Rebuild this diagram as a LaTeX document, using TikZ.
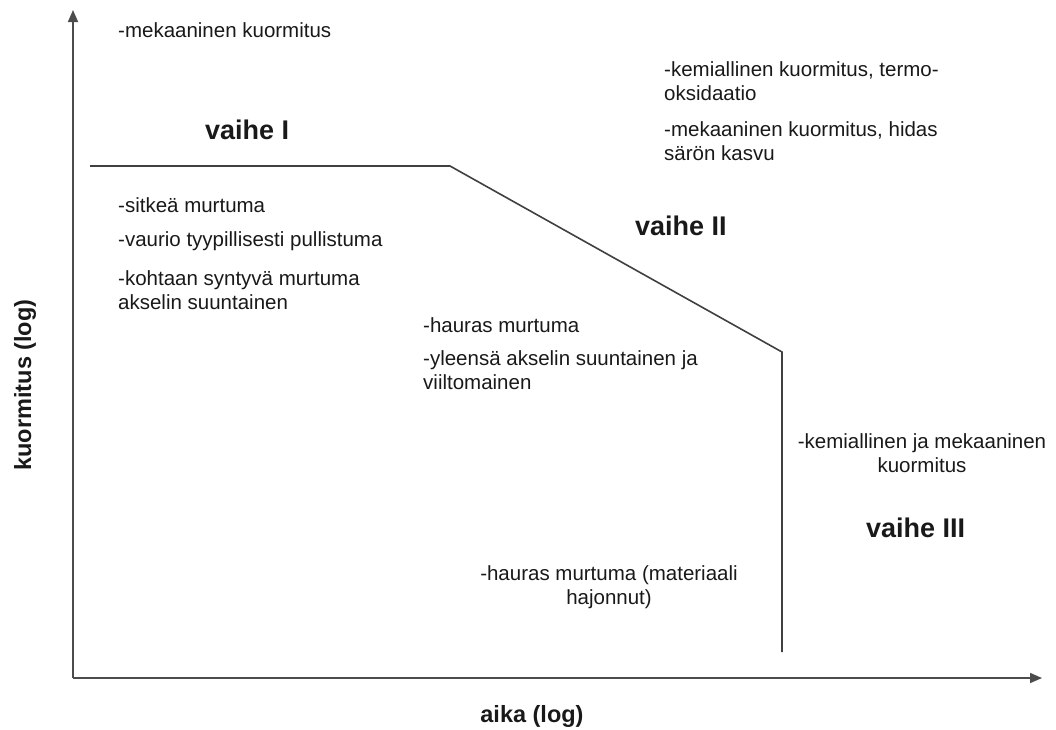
\documentclass[tikz,border=0pt]{standalone}
\usepackage{fontspec}
\setmainfont{Liberation Sans}
\usetikzlibrary{arrows.meta}
\begin{document}
\begin{tikzpicture}[x=1pt,y=-1pt,
  axis/.style={draw=black!70,line width=1.6pt,-{Triangle[length=12pt,width=10pt]}},
  curve/.style={draw=black!75,line width=1.6pt},
  txt/.style={inner sep=0pt,anchor=west,align=left,font=\fontsize{20.5}{24}\selectfont,text=black!90},
  ctxt/.style={inner sep=0pt,align=center,font=\fontsize{20.5}{24}\selectfont,text=black!90},
  phase/.style={inner sep=0pt,anchor=west,font=\fontsize{27}{30}\selectfont\bfseries,text=black!90},
  axlabel/.style={inner sep=0pt,font=\fontsize{23.5}{26}\selectfont\bfseries,text=black!90}]
\useasboundingbox (0,0) rectangle (1056,729);
% axes
\coordinate (O) at (73,678);
\coordinate (ytip) at (73,10);
\coordinate (xtip) at (1042,678);
\draw[axis] (O) -- (ytip);
\draw[axis] (O) -- (xtip);
% curve
\coordinate (c0) at (90,166);
\coordinate (c1) at (450,166);
\coordinate (c2) at (782,352);
\coordinate (c3) at (782,652);
\draw[curve,line join=miter] (c0) -- (c1) -- (c2) -- (c3);
% axis labels
\node[axlabel] (xlab) at (532,716) {aika (log)};
\node[axlabel,rotate=90] (ylab) at (25,385) {kuormitus (log)};
% phase I
\node[txt] (mek1) at (118,30) {-mekaaninen kuormitus};
\node[phase] (v1) at (205,130) {vaihe I};
\node[txt] (sit) at (118,205) {-sitkeä murtuma};
\node[txt] (vau) at (118,241) {-vaurio tyypillisesti pullistuma};
\node[txt] (koh) at (118,290) {-kohtaan syntyvä murtuma\\akselin suuntainen};
% phase II
\node[txt] (kem1) at (664,81) {-kemiallinen kuormitus, termo-\\oksidaatio};
\node[txt] (mek2) at (664,141) {-mekaaninen kuormitus, hidas\\särön kasvu};
\node[phase] (v2) at (635,226) {vaihe II};
\node[txt] (hau1) at (423,325) {-hauras murtuma};
\node[txt] (yle) at (423,370) {-yleensä akselin suuntainen ja\\viiltomainen};
% phase III
\node[ctxt] (kem2) at (922,453) {-kemiallinen ja mekaaninen\\kuormitus};
\node[phase] (v3) at (866,528) {vaihe III};
\node[ctxt] (hau2) at (609,587) {-hauras murtuma (materiaali\\hajonnut)};
\end{tikzpicture}
\end{document}
